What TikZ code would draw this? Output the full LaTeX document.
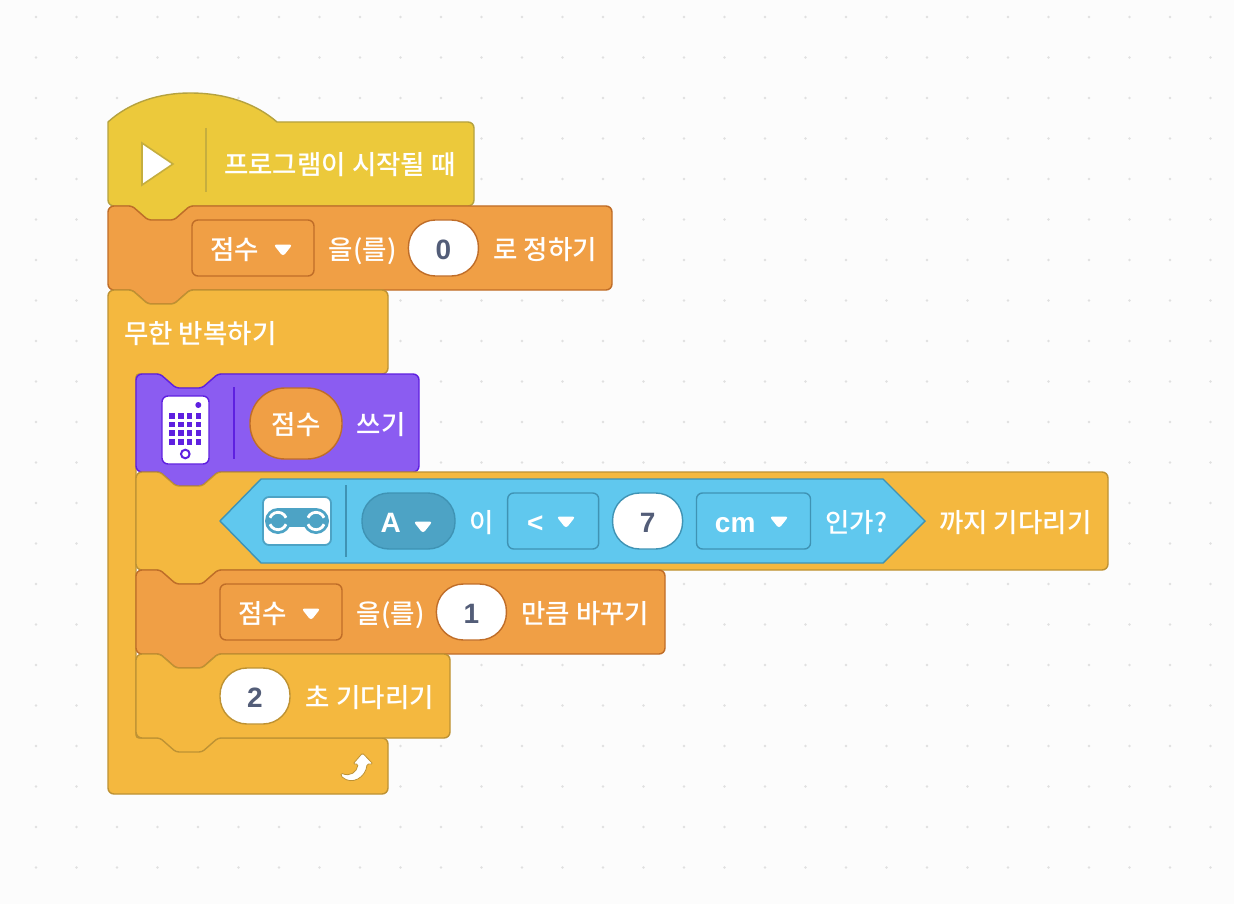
\documentclass[tikz,border=0pt]{standalone}
\usepackage{fontspec}
\usetikzlibrary{positioning}

\setmainfont{Noto Sans CJK KR Medium}
\newfontfamily\latinbold{Liberation Sans}

\definecolor{canvas}{HTML}{FCFCFC}
\definecolor{griddot}{HTML}{E0E0E0}
\definecolor{hatfill}{HTML}{ECC93B}
\definecolor{hatline}{HTML}{B5A23F}
\definecolor{varfill}{HTML}{F09F45}
\definecolor{varline}{HTML}{BF6D28}
\definecolor{ctrlfill}{HTML}{F4B83F}
\definecolor{ctrlline}{HTML}{BE9233}
\definecolor{hubfill}{HTML}{8B5CF1}
\definecolor{hubline}{HTML}{5F20E0}
\definecolor{sensfill}{HTML}{60C8EE}
\definecolor{sensline}{HTML}{3F93B4}
\definecolor{senspill}{HTML}{4DA3C5}
\definecolor{digitcol}{HTML}{535D78}

% one stacked block: style, left, top, right, bottom
\newcommand{\stackblock}[5]{%
  \draw[#1, rounded corners=6pt] (#2,#3+20) -- (#2,#3) [rounded corners=3pt] -- (#2+24,#3) -- ++(16,14) -- ++(26,0) -- ++(16,-14)
    [rounded corners=6pt] -- (#4,#3) -- (#4,#5) [rounded corners=3pt] -- (#2+82,#5) -- ++(-16,14) -- ++(-26,0) -- ++(-16,-14)
    [rounded corners=6pt] -- (#2,#5) -- cycle;}
% small white caret of a dropdown
\newcommand{\dropcaret}[1]{%
  \fill[white, rounded corners=3pt] ([shift={(-9.5,-5.5)}]#1) -- ++(19,0) -- ++(-9.5,12) -- cycle;}

\begin{document}
\begin{tikzpicture}[
    x=1pt, y=-1pt,
    hat/.style={draw=hatline, fill=hatfill, line width=1.4pt},
    setblock/.style={draw=varline, fill=varfill, line width=1.4pt},
    ctrlblock/.style={draw=ctrlline, fill=ctrlfill, line width=1.4pt},
    hubblock/.style={draw=hubline, fill=hubfill, line width=1.4pt},
    blocktext/.style={text=white, inner sep=0pt, text height=22pt, text depth=0pt,
        font=\fontsize{26.5}{30}\selectfont},
    boldtext/.style={inner sep=0pt, text height=22pt, text depth=0pt,
        font=\latinbold\fontsize{28}{30}\bfseries\selectfont},
    dropbox/.style={draw=#1, rounded corners=6pt, line width=1.4pt, minimum height=56pt, inner sep=0pt},
    pill/.style={draw=#1, fill=white, rounded corners=27pt, line width=1.4pt,
        minimum width=70pt, minimum height=56pt, inner sep=0pt, text=digitcol,
        text height=23pt, text depth=0pt,
        font=\latinbold\fontsize{28}{30}\bfseries\selectfont},
    divider/.style={line width=1.2pt}
]
\useasboundingbox (0,0) rectangle (1234,904);
\fill[canvas] (0,0) rectangle (1234,904);

% ===== GRID DOTS =====
\foreach \i in {0,...,29}
  \foreach \j in {0,...,21}
    \fill[griddot] (36+40.5*\i,17+40.5*\j) circle (1.4pt);

% ===== HAT BLOCK =====
\draw[hat] (108,170) -- (108,122) .. controls (130,102) and (160,93) .. (190,93) .. controls (225,93) and (255,103) .. (277,122)
  [rounded corners=6pt] -- (474,122) -- (474,206) [rounded corners=3pt] -- (190,206) -- ++(-16,14) -- ++(-26,0) -- ++(-16,-14)
  [rounded corners=6pt] -- (108,206) -- cycle;
\draw[draw=hatline!70!hatfill, fill=white, line width=1.6pt] (142,143) -- (173,164) -- (142,185) -- cycle;
\draw[divider, hatline!70!hatfill] (206,128) -- (206,192);
\node[blocktext, anchor=west] (starttext) at (224,164) {프로그램이 시작될 때};

% ===== SET VARIABLE =====
\stackblock{setblock}{108}{206}{612}{290}
\node[dropbox=varline, minimum width=122pt] (setvar) at (253,248) {};
\node[blocktext, right=19pt of setvar.west] (setvartext) {점수};
\dropcaret{283,250}
\node[blocktext, right=14pt of setvar] (setof) {을(를)};
\node[pill=varline, right=11pt of setof] (setzero) {0};
\node[blocktext, right=14pt of setzero] (setend) {로 정하기};

% ===== FOREVER LOOP =====
\draw[ctrlblock, rounded corners=6pt] (108,310) -- (108,290) [rounded corners=3pt] -- (132,290) -- ++(16,14) -- ++(26,0) -- ++(16,-14)
  [rounded corners=6pt] -- (388,290) -- (388,374) [rounded corners=3pt] -- (218,374) -- ++(-16,14) -- ++(-26,0) -- ++(-16,-14) -- (136,374)
  -- (136,738) [rounded corners=6pt] -- (388,738) -- (388,794) -- (108,794) -- cycle;
\node[blocktext, anchor=west] (looptext) at (124,332) {무한 반복하기};
\draw[fill=white, draw=ctrlline, line width=0.8pt, rounded corners=1.5pt] (341,773) .. controls (350,777) and (357,772) .. (358,764) -- (353,764) -- (362.5,753)
  -- (373,764) -- (367,764) .. controls (366,777) and (352,786) .. (341,776) -- cycle;

% ===== DISPLAY BLOCK =====
\stackblock{hubblock}{136}{374}{419}{472}
\draw[draw=hubline, fill=white, rounded corners=6pt, line width=1.4pt] (162,396) rectangle (209,464);
\foreach \cx in {171.7,180.7,189.3,198.3}
  \foreach \cy in {415.7,424.3,433,441.7}
    \fill[hubline] (\cx-2.8,\cy-2.8) rectangle (\cx+2.8,\cy+2.8);
\fill[hubline] (198.3,405) circle (3pt);
\draw[hubline, line width=2pt] (185.3,454) circle (4.3pt);
\draw[divider, hubline] (234,387) -- (234,459);
\node[draw=varline, fill=varfill, rounded corners=35pt, line width=1.4pt, minimum width=92pt,
      minimum height=71pt, inner sep=0pt] (showvar) at (296,423.5) {};
\node[blocktext] (showvartext) at (296,423.5) {점수};
\node[blocktext, right=14pt of showvar] (showtext) {쓰기};

% ===== WAIT UNTIL =====
\stackblock{ctrlblock}{136}{472}{1108}{570}
\draw[draw=sensline, fill=sensfill, line width=1.4pt] (220,521) -- (261,479) -- (883,479) -- (925,521) -- (883,563) -- (261,563) -- cycle;
\draw[draw=senspill, fill=white, rounded corners=6pt, line width=1.8pt] (263,497) rectangle (331,545);
\fill[senspill] (278,508) rectangle (316,527);
\foreach \cx in {278,316} {
  \fill[senspill] (\cx,521) circle (13pt);
  \draw[white, line width=2.8pt] (\cx,521) ++(22:8.7) arc[start angle=22, end angle=158, radius=8.7];
  \draw[white, line width=2.8pt] (\cx,521) ++(202:8.7) arc[start angle=202, end angle=338, radius=8.7];
}
\draw[divider, sensline] (346,485) -- (346,557);
\node[draw=sensline, fill=senspill, rounded corners=27pt, line width=1.4pt, minimum width=93pt,
      minimum height=56pt, inner sep=0pt] (portpick) at (408.5,521) {};
\node[boldtext, text=white, right=19pt of portpick.west] (porttext) {A};
\dropcaret{423,527}
\node[blocktext, right=14pt of portpick] (portof) {이};
\node[dropbox=sensline, minimum width=91pt, right=12.5pt of portof] (cmppick) {};
\node[boldtext, text=white, right=20pt of cmppick.west] (cmptext) {<};
\dropcaret{566,522}
\node[pill=sensline, right=12.5pt of cmppick] (distval) {7};
\node[dropbox=sensline, minimum width=114pt, right=12.5pt of distval] (unitpick) {};
\node[boldtext, text=white, right=19pt of unitpick.west] (unittext) {cm};
\dropcaret{779,522}
\node[blocktext, right=14pt of unitpick] (asktext) {인가?};
\node[blocktext, anchor=west] (waituntil) at (939,521) {까지 기다리기};

% ===== CHANGE VARIABLE =====
\stackblock{setblock}{136}{570}{665}{654}
\node[dropbox=varline, minimum width=122pt] (addvar) at (281,612) {};
\node[blocktext, right=19pt of addvar.west] (addvartext) {점수};
\dropcaret{311,614}
\node[blocktext, right=14pt of addvar] (addof) {을(를)};
\node[pill=varline, right=11pt of addof] (addone) {1};
\node[blocktext, right=14pt of addone] (addend) {만큼 바꾸기};

% ===== WAIT SECONDS =====
\stackblock{ctrlblock}{136}{654}{450}{738}
\node[pill=ctrlline] (waitval) at (255,696) {2};
\node[blocktext, right=15pt of waitval] (waitend) {초 기다리기};

\end{tikzpicture}
\end{document}
